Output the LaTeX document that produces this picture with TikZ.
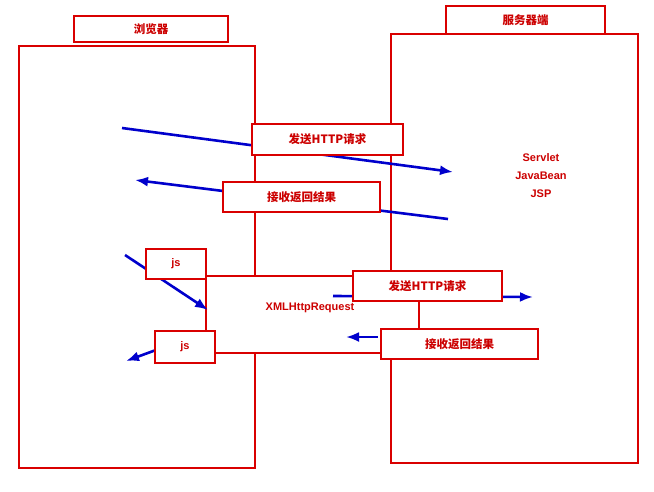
\documentclass[tikz,border=0pt]{standalone}
\usepackage{fontspec}
\setmainfont{Liberation Sans}
\newfontfamily\cjk{Noto Sans CJK SC}
\usetikzlibrary{arrows.meta}
\begin{document}
\begin{tikzpicture}[x=1pt,y=-1pt,
  frame/.style={draw=red!85!black,line width=2pt},
  lbl/.style={frame,fill=white,inner sep=0pt,anchor=north west},
  red txt/.style={text=red!80!black,font=\bfseries\fontsize{11}{13}\selectfont},
  cn txt/.style={text=red!80!black,font=\cjk\bfseries\fontsize{11.5}{13}\selectfont},
  flow/.style={draw=blue!80!black,line width=2.6pt,-{Latex[length=13pt,width=10pt]}}]
\useasboundingbox (0,0) rectangle (654,491);
\fill[white] (0,0) rectangle (654,491);
% containers
\node[frame,minimum width=236pt,minimum height=422pt,anchor=north west,inner sep=0pt] (browser) at (18,45) {};
\node[frame,minimum width=247pt,minimum height=429pt,anchor=north west,inner sep=0pt] (server) at (390,33) {};
% xhr box
\node[frame,fill=white,minimum width=213pt,minimum height=77pt,anchor=north west,inner sep=0pt] (xhr) at (205,275) {};
\node[red txt] (xhrt) at (310,308) {XMLHttpRequest};
% arrows (behind labels)
\coordinate (a1s) at (122,128); \coordinate (a1e) at (453,172);
\coordinate (a2s) at (448,219); \coordinate (a2e) at (135,180);
\coordinate (a3s) at (125,255); \coordinate (a3e) at (208,310);
\coordinate (a4s) at (333,296); \coordinate (a4e) at (533,297);
\coordinate (a5s) at (378,337); \coordinate (a5e) at (346,337);
\coordinate (a6s) at (156,350); \coordinate (a6e) at (126,361);
\draw[flow] (a1s) -- (a1e);
\draw[flow] (a2s) -- (a2e);
\draw[flow] (a3s) -- (a3e);
\draw[flow] (a4s) -- (a4e);
\draw[flow] (a5s) -- (a5e);
\draw[flow] (a6s) -- (a6e);
% labels
\node[lbl,minimum width=154pt,minimum height=26pt] (bt) at (73,15) {};
\node[cn txt] at (bt.center) {浏览器};
\node[lbl,minimum width=159pt,minimum height=28pt] (st) at (445,5) {};
\node[cn txt] at (st.center) {服务器端};
\node[lbl,minimum width=151pt,minimum height=31pt] (s1) at (251,123) {};
\node[cn txt] at (s1.center) {发送HTTP请求};
\node[lbl,minimum width=157pt,minimum height=30pt] (r1) at (222,181) {};
\node[cn txt] at (r1.center) {接收返回结果};
\node[lbl,minimum width=149pt,minimum height=30pt] (s2) at (352,270) {};
\node[cn txt] at (s2.center) {发送HTTP请求};
\node[lbl,minimum width=157pt,minimum height=30pt] (r2) at (380,328) {};
\node[cn txt] at (r2.center) {接收返回结果};
\node[lbl,minimum width=60pt,minimum height=30pt] (js1) at (145,248) {};
\node[red txt] at (js1.center) {js};
\node[lbl,minimum width=60pt,minimum height=32pt] (js2) at (154,330) {};
\node[red txt] at (js2.center) {js};
% server content
\node[red txt,align=center,font=\bfseries\fontsize{11}{18}\selectfont] (sv) at (541,176) {Servlet\\JavaBean\\JSP};
\end{tikzpicture}
\end{document}
